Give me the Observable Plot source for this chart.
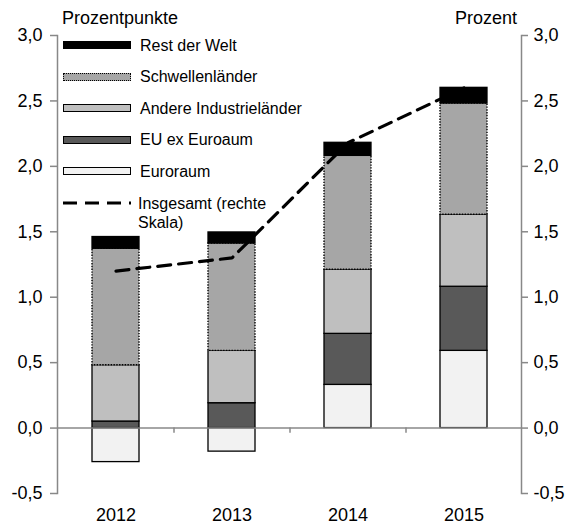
<!DOCTYPE html>
<html><head><meta charset="utf-8">
<script src="https://cdn.jsdelivr.net/npm/d3@7"></script>
<script src="https://cdn.jsdelivr.net/npm/@observablehq/plot@0.6"></script>
<style>
body{margin:0;background:#fff;font-family:"Liberation Sans",Arial,sans-serif;}
#wrap{position:relative;width:569px;height:524px;}
#wrap svg.plot{position:absolute;left:0;top:0;}
.title{position:absolute;font-size:18px;color:#000;white-space:nowrap;line-height:1;}
.leg{position:absolute;left:63px;font-size:16px;color:#000;}
.row{position:absolute;left:0;height:20px;display:flex;align-items:center;white-space:nowrap;}
.sw{width:66px;height:6px;box-sizing:content-box;margin-right:9px;}
.txt{line-height:19px;}
</style></head><body><div id="wrap"></div>
<script>
const years = ["2012", "2013", "2014", "2015"];
const series = ["Euroraum", "EU ex Euroaum", "Andere Industrieländer", "Schwellenländer", "Rest der Welt"];
const euroraum   = [-0.26, -0.18, 0.33, 0.59];
const euExEuro   = [0.05, 0.19, 0.39, 0.49];
const andere     = [0.43, 0.40, 0.49, 0.55];
const schwellen  = [0.89, 0.82, 0.87, 0.85];
const restWelt   = [0.09, 0.085, 0.10, 0.12];
const insgesamt  = [1.2, 1.3, 2.18, 2.6];
const yTicks = [-0.5, 0, 0.5, 1, 1.5, 2, 2.5, 3];
const colors = ["#f2f2f2", "#595959", "#bfbfbf", "#a6a6a6", "#000000"];
const legendOrder = ["Rest der Welt", "Schwellenländer", "Andere Industrieländer", "EU ex Euroaum", "Euroraum"];

const seriesValues = [euroraum, euExEuro, andere, schwellen, restWelt];
const data = years.flatMap((yr, i) => series.map((s, j) => ({year: yr, series: s, value: seriesValues[j][i]})));
const lineData = years.map((yr, i) => ({year: yr, value: insgesamt[i]}));
const fmt = d => d3.format(".1f")(d).replace(".", ",").replace("\u2212", "-");

const W = 569, H = 524, mL = 57, mR = 48;
const step = (W - mL - mR) / years.length;
const plot = Plot.plot({
  width: W, height: H,
  marginLeft: mL, marginRight: mR, marginTop: 35, marginBottom: 31,
  className: "plot",
  style: {fontSize: "18px", fontFamily: "'Liberation Sans', Arial, sans-serif", color: "#000", background: "transparent", overflow: "visible"},
  x: {domain: years, paddingInner: 0.595, paddingOuter: 0.2975, label: null},
  y: {domain: [-0.5, 3], label: null},
  color: {domain: series, range: colors},
  marks: [
    Plot.barY(data, {x: "year", y: "value", fill: "series", stroke: "#000", strokeWidth: 1.3,
      strokeOpacity: d => d.series === "Schwellenländer" ? 0 : 1}),
    Plot.barY(data, {x: "year", y: "value", fill: "none", stroke: "#000", strokeWidth: 1.4, strokeDasharray: "1.4,1.4",
      strokeOpacity: d => d.series === "Schwellenländer" ? 1 : 0}),
    Plot.ruleY([0], {stroke: "#888", strokeWidth: 1.5}),
    Plot.ruleX(years.slice(1), {x: d => d, y1: 0, y2: -0.04, dx: -step / 2, stroke: "#888", strokeWidth: 1.5}),
    Plot.frame({anchor: "left", stroke: "#888", strokeWidth: 1.5}),
    Plot.frame({anchor: "right", stroke: "#888", strokeWidth: 1.5}),
    Plot.axisY({anchor: "left", ticks: yTicks, tickFormat: fmt, tickSize: 7, tickPadding: 8, stroke: "#888", strokeWidth: 1.5, fill: "#000", label: null}),
    Plot.axisY({anchor: "right", ticks: yTicks, tickFormat: fmt, tickSize: 6, tickPadding: 6, stroke: "#888", strokeWidth: 1.5, fill: "#000", label: null}),
    Plot.axisX({anchor: "bottom", tickSize: 0, tickPadding: 15, fill: "#000", label: null}),
    Plot.line(lineData, {x: "year", y: "value", stroke: "#000", strokeWidth: 3.2, strokeDasharray: "13,8"})
  ]
});
const wrap = document.getElementById("wrap");
wrap.appendChild(plot);

// titles
const t1 = document.createElement("div");
t1.className = "title"; t1.textContent = "Prozentpunkte";
t1.style.left = "62px"; t1.style.top = "9px";
wrap.appendChild(t1);
const t2 = document.createElement("div");
t2.className = "title"; t2.textContent = "Prozent";
t2.style.right = (W - 517) + "px"; t2.style.top = "9px";
wrap.appendChild(t2);

// legend
const leg = document.createElement("div");
leg.className = "leg"; leg.style.top = "35px";
wrap.appendChild(leg);
legendOrder.forEach((s, i) => {
  const row = document.createElement("div");
  row.className = "row"; row.style.top = (i * 31.6) + "px";
  const sw = document.createElement("div");
  sw.className = "sw";
  const c = colors[series.indexOf(s)];
  sw.style.background = c;
  sw.style.border = s === "Schwellenländer" ? "1.4px dotted #000" : "1.3px solid #000";
  const tx = document.createElement("span");
  tx.className = "txt"; tx.textContent = s;
  row.appendChild(sw); row.appendChild(tx);
  leg.appendChild(row);
});
const lrow = document.createElement("div");
lrow.className = "row";
lrow.style.top = "158.5px"; lrow.style.height = "40px"; lrow.style.alignItems = "flex-start";
lrow.innerHTML = '<svg width="68" height="6" style="margin-top:6.5px;margin-right:7px;display:block"><line x1="0" y1="3" x2="68" y2="3" stroke="#000" stroke-width="3.2" stroke-dasharray="14,8"/></svg><span class="txt">Insgesamt (rechte<br>Skala)</span>';
leg.appendChild(lrow);
</script></body></html>
